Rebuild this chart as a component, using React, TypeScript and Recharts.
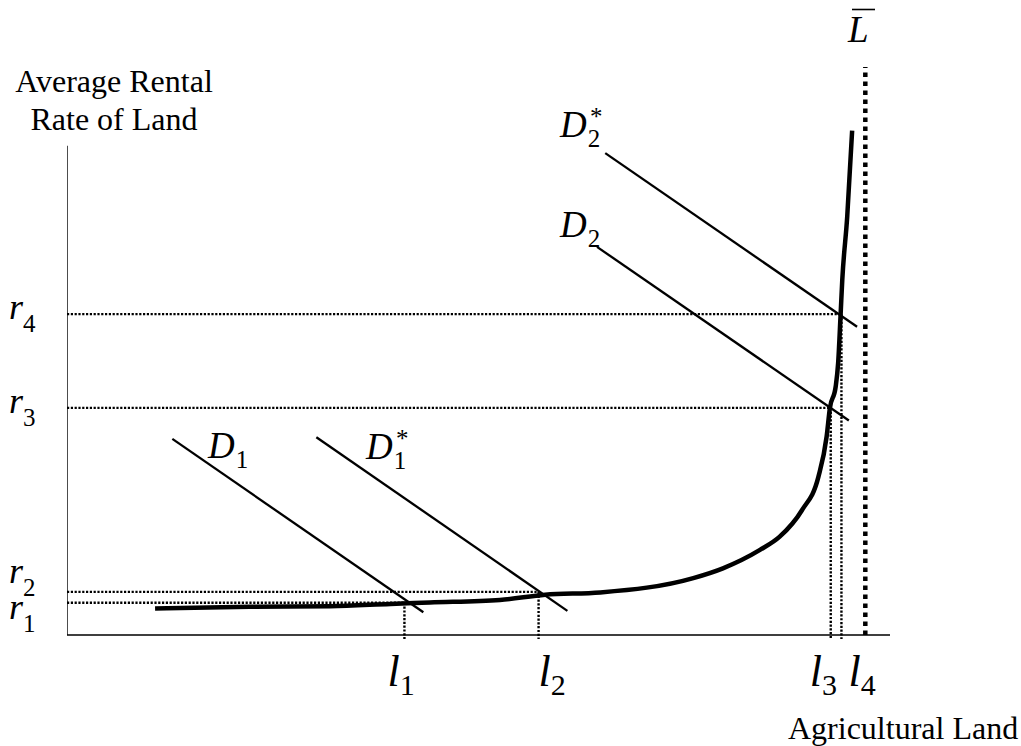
import React from 'react';
import { ComposedChart, Line, XAxis, YAxis } from 'recharts';

const CHART_W = 1021;
const CHART_H = 746;

// Supply curve of agricultural land (land, average rental rate)
const supplyLand = [10.7, 22.2, 32.0, 39.3, 44.1, 52.6, 58.1, 64.8, 76.1, 79.7, 84.2, 86.6, 89.3, 91.3, 92.3, 92.7, 93.4, 93.7, 94.0, 94.2, 94.8, 95.4];
const supplyRent = [4.6, 4.9, 5.0, 5.4, 5.65, 6.1, 7.0, 7.4, 9.9, 11.6, 14.8, 17.1, 21.7, 27.5, 34.5, 39.5, 43.2, 47.3, 55.8, 61.7, 72.7, 87.7];

// Demand lines (two end points each)
const d1Land = [12.8, 43.3];
const d1Rent = [34.1, 3.95];
const d1sLand = [30.3, 60.8];
const d1sRent = [34.4, 4.2];
const d2Land = [64.4, 95.0];
const d2Rent = [67.5, 37.3];
const d2sLand = [65.4, 96.0];
const d2sRent = [83.8, 53.6];

// Equilibrium rental rates r1..r4 and land quantities l1..l4
const rentLevels = [5.6, 7.5, 39.5, 55.8];
const rentSubs = ['1', '2', '3', '4'];
const landLevels = [41.0, 57.3, 92.8, 94.1];
const landSubs = ['1', '2', '3', '4'];

// Total land endowment L-bar
const landEndowment = 97.0;
const landEndowmentTop = 98.8;

// Axis extents
const axisTop = 85.1;
const axisRight = 100;
const dropBelow = -0.7;

const zip = (xs: number[], ys: number[]) => xs.map((x, i) => ({ x, y: ys[i] }));

const SERIF = '"Liberation Serif", "Times New Roman", serif';

// label layout (style)
const rBaseline = [619, 583, 413, 319];
const lOffset = [-17, 0, -21, 7];

const RTick = (props: any) => {
  const { index, payload } = props;
  const i = rentLevels.indexOf(payload.value);
  const k = i >= 0 ? i : index;
  const by = rBaseline[k];
  return (
    <text x={9} y={by} fontFamily={SERIF} fill="#000">
      <tspan fontStyle="italic" fontSize={36}>r</tspan>
      <tspan dy={13} fontSize={25}>{rentSubs[k]}</tspan>
    </text>
  );
};

const LTick = (props: any) => {
  const { x, index, payload } = props;
  const i = landLevels.indexOf(payload.value);
  const k = i >= 0 ? i : index;
  const lx = x + lOffset[k];
  return (
    <text x={lx} y={686} fontFamily={SERIF} fill="#000">
      <tspan fontStyle="italic" fontSize={44}>l</tspan>
      <tspan dy={9} fontSize={30}>{landSubs[k]}</tspan>
    </text>
  );
};

const Dlabel = ({ x, y, sub, star }: { x: number; y: number; sub: string; star?: boolean }) => (
  <text x={x} y={y} fontFamily={SERIF} fill="#000">
    <tspan fontStyle="italic" fontSize={37}>D</tspan>
    <tspan dx={1} dy={10} fontSize={25}>{sub}</tspan>
    {star ? (
      <tspan x={x + 30} y={y - 12} fontSize={25}>*</tspan>
    ) : null}
  </text>
);

const dotted = { stroke: '#000', strokeWidth: 2.4, strokeDasharray: '2.2 1.6' };

export default function App() {
  const supply = zip(supplyLand, supplyRent);
  const axes = [
    { x: 0, y: axisTop },
    { x: 0, y: 0 },
    { x: axisRight, y: 0 },
  ];
  return (
    <div style={{ position: 'absolute', left: 0, top: 0, width: CHART_W, height: CHART_H, background: '#fff' }}>
      <ComposedChart
        width={CHART_W}
        height={CHART_H}
        margin={{ top: 60, right: 131, bottom: 39.5, left: 7 }}
      >
        <XAxis
          type="number"
          dataKey="x"
          domain={[0, 100]}
          allowDataOverflow
          ticks={landLevels}
          interval={0}
          tick={LTick}
          tickLine={false}
          axisLine={false}
          height={60}
        />
        <YAxis
          type="number"
          dataKey="y"
          domain={[-2, 100]}
          allowDataOverflow
          ticks={rentLevels}
          interval={0}
          tick={RTick}
          tickLine={false}
          axisLine={false}
          width={60}
        />
        {rentLevels.map((r, i) => (
          <Line
            key={'rh' + i}
            data={[{ x: 0, y: r }, { x: landLevels[i], y: r }]}
            dataKey="y"
            dot={false}
            activeDot={false}
            isAnimationActive={false}
            {...dotted}
          />
        ))}
        {landLevels.map((l, i) => (
          <Line
            key={'lv' + i}
            data={[{ x: l, y: rentLevels[i] }, { x: l, y: dropBelow }]}
            dataKey="y"
            dot={false}
            activeDot={false}
            isAnimationActive={false}
            {...dotted}
          />
        ))}
        <Line
          data={[{ x: landEndowment, y: 0 }, { x: landEndowment, y: landEndowmentTop }]}
          dataKey="y"
          stroke="#000"
          strokeWidth={4.5}
          strokeDasharray="4.5 4.5"
          dot={false}
          activeDot={false}
          isAnimationActive={false}
        />
        <Line
          data={axes}
          dataKey="y"
          stroke="#000"
          strokeWidth={1.4}
          dot={false}
          activeDot={false}
          isAnimationActive={false}
        />
        {[zip(d1Land, d1Rent), zip(d1sLand, d1sRent), zip(d2Land, d2Rent), zip(d2sLand, d2sRent)].map((d, i) => (
          <Line
            key={'d' + i}
            data={d}
            dataKey="y"
            stroke="#000"
            strokeWidth={2.3}
            dot={false}
            activeDot={false}
            isAnimationActive={false}
          />
        ))}
        <Line
          type="monotone"
          data={supply}
          dataKey="y"
          stroke="#000"
          strokeWidth={4.5}
          strokeLinejoin="round"
          strokeLinecap="butt"
          dot={false}
          activeDot={false}
          isAnimationActive={false}
        />
        <g>
          <text x={114} y={92} textAnchor="middle" fontFamily={SERIF} fontSize={32} fill="#000">Average Rental</text>
          <text x={114} y={130} textAnchor="middle" fontFamily={SERIF} fontSize={32} fill="#000">Rate of Land</text>
          <text x={788} y={739} fontFamily={SERIF} fontSize={32} fill="#000">Agricultural Land</text>
          <text x={848} y={42} fontFamily={SERIF} fontStyle="italic" fontSize={37} fill="#000">L</text>
          <line x1={852} y1={9.5} x2={875} y2={9.5} stroke="#000" strokeWidth={1.6} />
          <Dlabel x={208} y={458} sub="1" />
          <Dlabel x={366} y={459} sub="1" star />
          <Dlabel x={560} y={237} sub="2" />
          <Dlabel x={560} y={137} sub="2" star />
        </g>
      </ComposedChart>
    </div>
  );
}
